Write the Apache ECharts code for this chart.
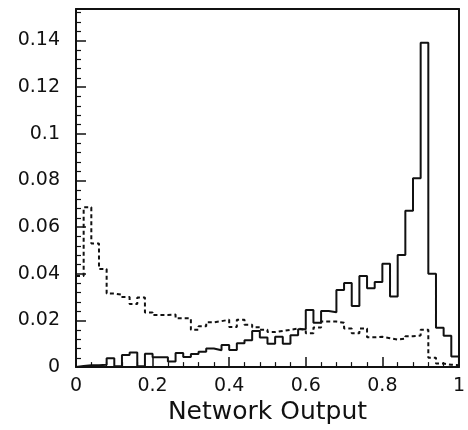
<!DOCTYPE html>
<html>
<head>
<meta charset="utf-8">
<script src="https://cdn.jsdelivr.net/npm/echarts@6/dist/echarts.min.js"></script>
<style>html,body{margin:0;padding:0;background:#fff}#c{width:468px;height:430px}</style>
</head>
<body>
<div id="c"></div>
<script>
// Left edges of the 50 histogram bins (width 0.02)
const binLeft = [0.00,0.02,0.04,0.06,0.08,0.10,0.12,0.14,0.16,0.18,
  0.20,0.22,0.24,0.26,0.28,0.30,0.32,0.34,0.36,0.38,
  0.40,0.42,0.44,0.46,0.48,0.50,0.52,0.54,0.56,0.58,
  0.60,0.62,0.64,0.66,0.68,0.70,0.72,0.74,0.76,0.78,
  0.80,0.82,0.84,0.86,0.88,0.90,0.92,0.94,0.96,0.98];
const binEnd = 1.0;

// Solid histogram
const solidValues = [0.0005,0.0008,0.0008,0.0010,0.0038,0.0004,0.0052,0.0063,0.0004,0.0057,
  0.0042,0.0042,0.0024,0.0060,0.0043,0.0056,0.0066,0.0080,0.0072,0.0095,
  0.0073,0.0102,0.0115,0.0155,0.0127,0.0100,0.0130,0.0100,0.0137,0.0162,
  0.0245,0.0190,0.0240,0.0235,0.0330,0.0360,0.0262,0.0390,0.0338,0.0365,
  0.0443,0.0303,0.0480,0.0670,0.0810,0.1390,0.0400,0.0169,0.0134,0.0045];

// Dashed histogram
const dashedValues = [0.0390,0.0685,0.0530,0.0420,0.0315,0.0310,0.0300,0.0270,0.0298,0.0234,
  0.0223,0.0223,0.0225,0.0209,0.0209,0.0160,0.0175,0.0192,0.0197,0.0203,
  0.0172,0.0203,0.0182,0.0171,0.0160,0.0150,0.0155,0.0160,0.0165,0.0160,
  0.0145,0.0170,0.0195,0.0195,0.0190,0.0165,0.0145,0.0165,0.0128,0.0130,
  0.0124,0.0118,0.0122,0.0132,0.0135,0.0160,0.0040,0.0015,0.0010,0.0008];

const xTickLabels = ['0','0.2','0.4','0.6','0.8','1'];
const yTickLabels = ['0','0.02','0.04','0.06','0.08','0.1','0.12','0.14'];
const xTitle = 'Network Output';

function stepData(vals) {
  const d = [[binLeft[0], 0]];
  for (let i = 0; i < vals.length; i++) d.push([binLeft[i], vals[i]]);
  d.push([binEnd, vals[vals.length - 1]]);
  d.push([binEnd, 0]);
  return d;
}

const FONT = 'DejaVu Sans';
const chart = echarts.init(document.getElementById('c'), null, {renderer: 'canvas'});
const yMax = 0.1535;
chart.setOption({
  animation: false,
  backgroundColor: '#fff',
  grid: {left: 76, right: 3, top: 9, bottom: 58},
  xAxis: [{
    type: 'value', min: 0, max: 1, interval: 0.2,
    axisLine: {lineStyle: {color: '#111', width: 2}},
    axisTick: {inside: true, length: 10, lineStyle: {color: '#111', width: 1.5}},
    minorTick: {show: true, splitNumber: 5, length: 5, lineStyle: {color: '#111', width: 1.2}},
    splitLine: {show: false},
    axisLabel: {
      margin: 9, color: '#111', fontFamily: FONT, fontSize: 19,
      formatter: function (v) { const i = Math.round(v / 0.2); return Math.abs(v - i * 0.2) < 1e-9 ? xTickLabels[i] : ''; }
    },
    name: xTitle, nameLocation: 'middle', nameGap: 24,
    nameTextStyle: {color: '#111', fontFamily: FONT, fontSize: 25}
  }, {
    type: 'value', min: 0, max: 1, position: 'top',
    axisLine: {show: true, onZero: false, lineStyle: {color: '#111', width: 2}},
    axisTick: {show: false}, axisLabel: {show: false}, splitLine: {show: false}
  }],
  yAxis: [{
    type: 'value', min: 0, max: yMax, interval: 0.02,
    axisLine: {lineStyle: {color: '#111', width: 2}},
    axisTick: {inside: true, length: 10, lineStyle: {color: '#111', width: 1.5}},
    minorTick: {show: true, splitNumber: 5, length: 5, lineStyle: {color: '#111', width: 1.2}},
    splitLine: {show: false},
    axisLabel: {
      margin: 16, color: '#111', fontFamily: FONT, fontSize: 19,
      formatter: function (v) { const i = Math.round(v / 0.02); return (Math.abs(v - i * 0.02) < 1e-9 && i < yTickLabels.length) ? yTickLabels[i] : ''; }
    }
  }, {
    type: 'value', min: 0, max: yMax, position: 'right',
    axisLine: {show: true, onZero: false, lineStyle: {color: '#111', width: 2}},
    axisTick: {show: false}, axisLabel: {show: false}, splitLine: {show: false}
  }],
  series: [{
    type: 'line', step: 'end', symbol: 'none', data: stepData(dashedValues),
    lineStyle: {color: '#111', width: 2, type: [4, 3]}, z: 3
  }, {
    type: 'line', step: 'end', symbol: 'none', data: stepData(solidValues),
    lineStyle: {color: '#111', width: 2}, z: 4
  }]
});
</script>
</body>
</html>
